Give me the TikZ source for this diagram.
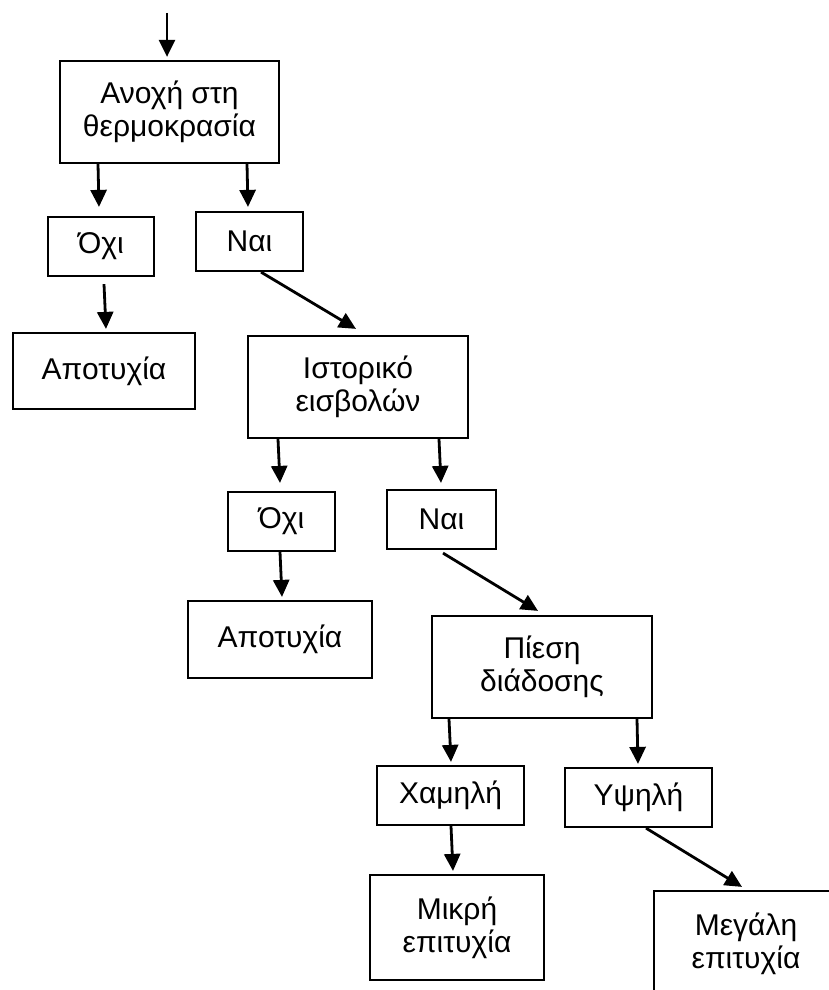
\documentclass[tikz,border=0pt]{standalone}
\usepackage{fontspec}
\setmainfont{Liberation Sans}
\usepackage{tikz}
\usetikzlibrary{arrows.meta}
\tikzstyle{block} = [rectangle, draw=black, line width=2.2pt, inner sep=0pt, text centered, align=center, fill=white, font=\fontsize{30}{33}\selectfont]
\tikzstyle{arrow} = [line width=2.8pt, -{Triangle[length=17pt,width=16pt]}]
\begin{document}
\begin{tikzpicture}[x=1pt, y=-1pt]
	\useasboundingbox (0,0) rectangle (828,990);
	\coordinate (in) at (167,13);
	\node (anoxi) [block, minimum width=219pt, minimum height=102pt] at (169.5,112) {Ανοχή στη\\θερμοκρασία};
	\node (oxi1) [block, minimum width=106pt, minimum height=59pt] at (101,246.5) {Όχι};
	\node (nai1) [block, minimum width=107pt, minimum height=59pt] at (249.5,241.5) {Ναι};
	\node (apot1) [block, minimum width=182pt, minimum height=76pt] at (104,371) {Αποτυχία};
	\node (istor) [block, minimum width=220pt, minimum height=102pt] at (358,387) {Ιστορικό\\εισβολών};
	\node (oxi2) [block, minimum width=107pt, minimum height=59pt] at (281.5,521.5) {Όχι};
	\node (nai2) [block, minimum width=109pt, minimum height=59pt] at (441.5,519.5) {Ναι};
	\node (apot2) [block, minimum width=184pt, minimum height=77pt] at (280,639.5) {Αποτυχία};
	\node (piesi) [block, minimum width=220pt, minimum height=102pt] at (542,667) {Πίεση\\διάδοσης};
	\node (xamili) [block, minimum width=147pt, minimum height=59pt] at (450.5,795.5) {Χαμηλή};
	\node (ypsili) [block, minimum width=147pt, minimum height=59pt] at (638.5,797.5) {Υψηλή};
	\node (mikri) [block, minimum width=174pt, minimum height=105pt] at (457,927.5) {Μικρή\\επιτυχία};
	\node (megali) [block, minimum width=184pt, minimum height=105pt] at (746,943.5) {Μεγάλη\\επιτυχία};

	\draw [arrow] (in) -- ([xshift=-2.5pt,yshift=3pt]anoxi.north);
	\draw [arrow] ([xshift=-71.5pt]anoxi.south) -- ([xshift=-2pt,yshift=9pt]oxi1.north);
	\draw [arrow] ([xshift=77.5pt]anoxi.south) -- ([xshift=-1.5pt,yshift=4pt]nai1.north);
	\draw [arrow] ([xshift=3pt,yshift=-7pt]oxi1.south) -- ([xshift=2pt,yshift=3pt]apot1.north);
	\draw [arrow] ([xshift=11.5pt]nai1.south) -- ([xshift=-2pt,yshift=6pt]istor.north);
	\draw [arrow] ([xshift=-80pt]istor.south) -- ([xshift=-1.5pt,yshift=8pt]oxi2.north);
	\draw [arrow] ([xshift=81pt]istor.south) -- ([xshift=-0.5pt,yshift=6pt]nai2.north);
	\draw [arrow] ([xshift=-1.5pt]oxi2.south) -- ([xshift=2pt,yshift=3pt]apot2.north);
	\draw [arrow] ([xshift=1.5pt,yshift=-3pt]nai2.south) -- ([xshift=-4pt,yshift=4pt]piesi.north);
	\draw [arrow] ([xshift=-93pt]piesi.south) -- ([xshift=0.5pt,yshift=3pt]xamili.north);
	\draw [arrow] ([xshift=95pt]piesi.south) -- ([xshift=-0.5pt,yshift=3pt]ypsili.north);
	\draw [arrow] ([xshift=0.5pt]xamili.south) -- ([xshift=-4pt,yshift=3pt]mikri.north);
	\draw [arrow] ([xshift=7.5pt]ypsili.south) -- ([xshift=-4pt,yshift=3pt]megali.north);
\end{tikzpicture}
\end{document}
